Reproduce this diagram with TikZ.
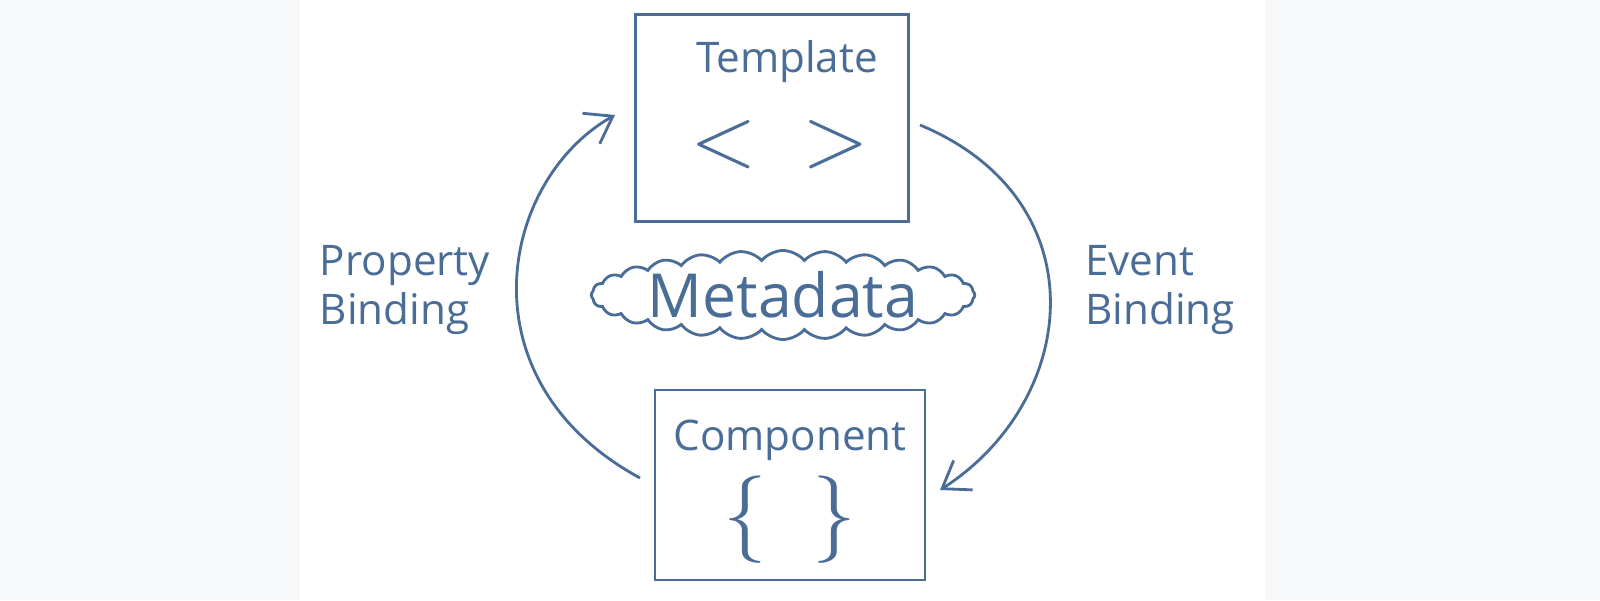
\documentclass[tikz,border=0pt]{standalone}
\usepackage{fontspec}
\setmainfont{Open Sans}
\usetikzlibrary{shapes.symbols, arrows.meta}
\definecolor{ink}{HTML}{4A6D98}
\definecolor{backdrop}{HTML}{F7F8FA}
\tikzset{box/.style={draw=ink,thick,minimum width=2.73cm,minimum height=2.07cm},
         word/.style={text=ink,font=\large},
         bind/.style={draw=ink,thick,-{Straight Barb[length=2.5mm,width=3.5mm]}},
        }
\begin{document}
\begin{tikzpicture}
        \fill[backdrop](0,0)rectangle(16,6);
        \fill[white](3,0)rectangle(12.65,6);
        \useasboundingbox(0,0)rectangle(16,6);

        \node[box](tmpl)at(7.72,4.82){};
        \node[word]at(7.87,5.38){Template};
        \node[text=ink,font=\Huge]at(7.8,4.55){$<\ \ >$};

        \node[box,minimum width=2.7cm,minimum height=1.9cm](comp)at(7.9,1.15){};
        \node[word]at(7.9,1.6){Component};
        \node[text=ink,font=\Huge]at(7.9,0.8){$\{\ \ \}$};

        \node[cloud,draw=ink,thick,cloud puffs=28,cloud puff arc=100,aspect=5.5,inner sep=0pt,
              minimum width=3.4cm,minimum height=0.85cm,text=ink,font=\LARGE](meta)at(7.83,3.05){Metadata};

        \node[word,align=left]at(4.05,3.1){Property\\Binding};
        \node[word,align=left]at(11.6,3.1){Event\\Binding};

        \coordinate(lstart)at(6.4,1.22);
        \coordinate(lend)at(6.15,4.85);
        \coordinate(rstart)at(9.2,4.75);
        \coordinate(rend)at(9.4,1.1);
        \draw[bind](lstart)..controls(4.6,2.2)and(5.0,4.2)..(lend);
        \draw[bind](rstart)..controls(11.0,4.0)and(10.8,2.0)..(rend);
    \end{tikzpicture}
\end{document}
